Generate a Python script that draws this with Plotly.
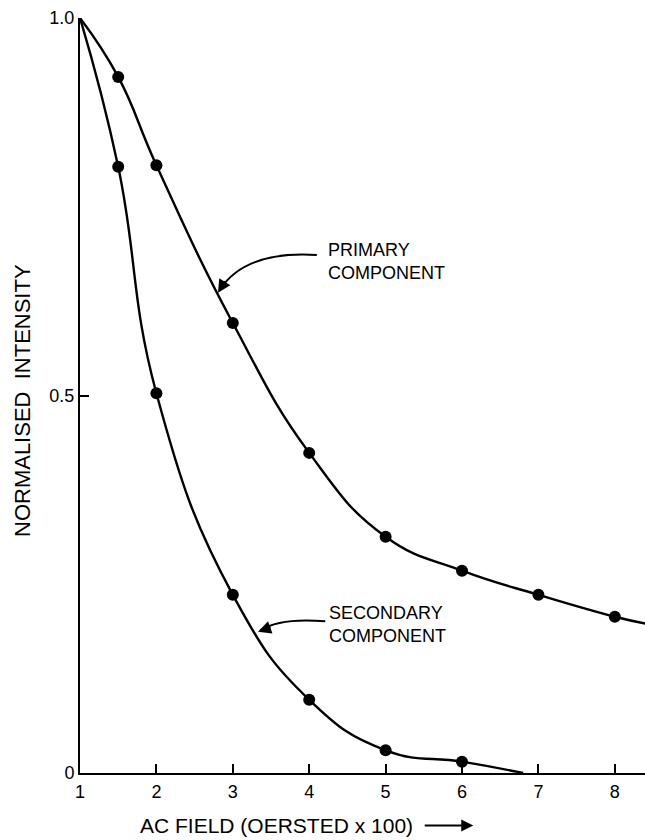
import plotly.graph_objects as go

# AC demagnetisation of the two magnetisation components
field = [1.5, 2, 3, 4, 5, 6, 7, 8]
primary = [0.922, 0.805, 0.596, 0.424, 0.313, 0.268, 0.236, 0.207]

field_sec = [1.5, 2, 3, 4, 5, 6]
secondary = [0.803, 0.503, 0.236, 0.097, 0.030, 0.015]

# smooth fitted curves (start at the normalised value 1.0 at x = 1)
curve_p_x = [1.0] + field + [8.4]
curve_p_y = [1.0] + primary + [0.198]
curve_s_x = [1.0] + field_sec + [6.8]
curve_s_y = [1.0] + secondary + [0.0]

x_ticks = [1, 2, 3, 4, 5, 6, 7, 8]
x_tick_text = ["1", "2", "3", "4", "5", "6", "7", "8"]
y_ticks = [0, 0.5, 1.0]
y_tick_text = ["0", "0.5", "1.0"]

FONT = "Liberation Sans"
INK = "black"

fig = go.Figure()

for cx, cy in [(curve_p_x, curve_p_y), (curve_s_x, curve_s_y)]:
    fig.add_trace(go.Scatter(
        x=cx, y=cy, mode="lines",
        line=dict(color=INK, width=2.4, shape="spline", smoothing=1.3),
        hoverinfo="skip", cliponaxis=False,
    ))

for mx, my in [(field, primary), (field_sec, secondary)]:
    fig.add_trace(go.Scatter(
        x=mx, y=my, mode="markers",
        marker=dict(color=INK, size=12),
        cliponaxis=False,
    ))

# curved pointer lines to the curve labels
fig.add_shape(type="path", xref="x", yref="y",
              path="M 4.10 0.686 Q 3.16 0.692 2.83 0.640",
              line=dict(color=INK, width=2))
fig.add_shape(type="path", xref="x", yref="y",
              path="M 4.21 0.201 Q 3.62 0.206 3.36 0.189",
              line=dict(color=INK, width=2))

annotations = [
    dict(x=2.806, y=0.636, xref="x", yref="y", ax=8, ay=-13, showarrow=True,
         arrowhead=2, arrowsize=1.3, arrowwidth=2, arrowcolor=INK, text=""),
    dict(x=3.33, y=0.187, xref="x", yref="y", ax=14, ay=-5, showarrow=True,
         arrowhead=2, arrowsize=1.3, arrowwidth=2, arrowcolor=INK, text=""),
    dict(x=4.22, y=0.6775, xref="x", yref="y", xanchor="left", yanchor="middle",
         showarrow=False, align="left", text="PRIMARY<br>COMPONENT",
         font=dict(family=FONT, size=18, color=INK)),
    dict(x=4.235, y=0.197, xref="x", yref="y", xanchor="left", yanchor="middle",
         showarrow=False, align="left", text="SECONDARY<br>COMPONENT",
         font=dict(family=FONT, size=18, color=INK)),
    dict(x=-0.1027, y=0.494, xref="paper", yref="paper", textangle=-90,
         xanchor="center", yanchor="middle",
         showarrow=False, text="NORMALISED  INTENSITY",
         font=dict(family=FONT, size=22, color=INK)),
    dict(x=0.347, y=-0.0695, xref="paper", yref="paper",
         xanchor="center", yanchor="middle",
         showarrow=False, text="AC FIELD (OERSTED x 100)",
         font=dict(family=FONT, size=21, color=INK)),
    dict(x=0.696, y=-0.0695, xref="paper", yref="paper", ax=-50, ay=0,
         showarrow=True, arrowhead=2, arrowsize=1.2, arrowwidth=2,
         arrowcolor=INK, text=""),
]

fig.update_layout(
    width=645, height=840,
    margin=dict(l=80, r=0, t=18, b=67),
    paper_bgcolor="white", plot_bgcolor="white",
    showlegend=False,
    annotations=annotations,
    font=dict(family=FONT, color=INK),
)

fig.update_xaxes(
    range=[1, 8.395], showgrid=False, zeroline=False,
    showline=True, linecolor=INK, linewidth=2,
    tickvals=x_ticks, ticktext=x_tick_text,
    ticks="inside", ticklen=9, tickwidth=2, tickcolor=INK,
    tickfont=dict(family=FONT, size=18, color=INK),
    ticklabelstandoff=1,
)
fig.update_yaxes(
    range=[0, 1.0], showgrid=False, zeroline=False,
    showline=True, linecolor=INK, linewidth=2,
    tickvals=y_ticks, ticktext=y_tick_text,
    ticks="inside", ticklen=9, tickwidth=2, tickcolor=INK,
    tickfont=dict(family=FONT, size=18, color=INK),
)

fig.write_html("out.html")
